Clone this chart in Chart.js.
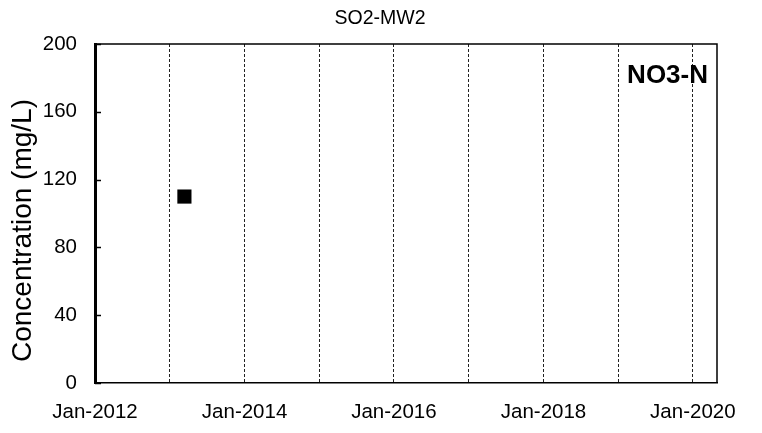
<!DOCTYPE html>
<html>
<head>
<meta charset="utf-8">
<title>SO2-MW2</title>
<script src="https://cdn.jsdelivr.net/npm/chart.js@4/dist/chart.umd.min.js"></script>
<style>
  html, body { margin: 0; padding: 0; background: #ffffff; }
  canvas { display: block; }
</style>
</head>
<body>
<canvas id="chart" width="762" height="433"></canvas>
<script>
// Monitoring well SO2-MW2, nitrate-nitrogen results
const sampleDates = ['2013-03-13'];
const no3nValues = [110];

// Axis setup
const axisStart = '2012-01-01';
const axisEnd = '2020-04-28';
const yearGridTicks = [2012, 2013, 2014, 2015, 2016, 2017, 2018, 2019, 2020];
const yTicks = [0, 40, 80, 120, 160, 200];

const chartTitle = 'SO2-MW2';
const yAxisTitle = 'Concentration (mg/L)';
const analyteLabel = 'NO3-N';

const MONTHS = ['Jan','Feb','Mar','Apr','May','Jun','Jul','Aug','Sep','Oct','Nov','Dec'];
const DAY = 86400000;
function toDay(s) {
  const [y, m, d] = s.split('-').map(Number);
  return Date.UTC(y, m - 1, d) / DAY;
}
function dayLabel(v) {
  const dt = new Date(v * DAY);
  return MONTHS[dt.getUTCMonth()] + '-' + dt.getUTCFullYear();
}

const points = sampleDates.map((d, i) => ({ x: toDay(d), y: no3nValues[i] }));
const FONT = "'Liberation Sans', Arial, sans-serif";

// Frame, inward y ticks and text annotations
const decorations = {
  id: 'decorations',
  afterDraw(chart) {
    const { ctx, chartArea: a, scales } = chart;
    ctx.save();
    // top and right frame
    ctx.strokeStyle = '#000';
    ctx.lineWidth = 1.5;
    ctx.beginPath();
    ctx.moveTo(a.left, a.top);
    ctx.lineTo(a.right, a.top);
    ctx.lineTo(a.right, a.bottom);
    ctx.stroke();
    // inward tick marks on the value axis
    ctx.lineWidth = 1.5;
    yTicks.forEach(v => {
      const y = Math.round(scales.y.getPixelForValue(v)) + 0.5;
      ctx.beginPath();
      ctx.moveTo(a.left, y);
      ctx.lineTo(a.left + 6, y);
      ctx.stroke();
    });
    ctx.fillStyle = '#000';
    // chart title
    ctx.font = '19.5px ' + FONT;
    ctx.textAlign = 'center';
    ctx.textBaseline = 'middle';
    ctx.fillText(chartTitle, 380, 19);
    // analyte label
    ctx.font = 'bold 26px ' + FONT;
    ctx.textAlign = 'right';
    ctx.fillText(analyteLabel, 708, 76);
    // value axis title
    ctx.font = '28px ' + FONT;
    ctx.textAlign = 'center';
    ctx.translate(23, 230.5);
    ctx.rotate(-Math.PI / 2);
    ctx.fillText(yAxisTitle, 0, 0);
    ctx.restore();
  }
};

new Chart(document.getElementById('chart'), {
  type: 'scatter',
  data: {
    datasets: [{
      label: analyteLabel,
      data: points,
      pointStyle: 'rect',
      pointRadius: 10,
      pointHoverRadius: 10,
      backgroundColor: '#000',
      borderColor: '#000',
      borderWidth: 0
    }]
  },
  options: {
    responsive: false,
    animation: false,
    events: [],
    layout: { padding: { top: 44, right: 45, left: 0, bottom: 0 } },
    plugins: {
      legend: { display: false },
      title: { display: false },
      tooltip: { enabled: false }
    },
    scales: {
      x: {
        type: 'linear',
        min: toDay(axisStart),
        max: toDay(axisEnd),
        afterFit(s) { s.height = 50; },
        afterBuildTicks(s) {
          s.ticks = yearGridTicks.map(y => ({ value: toDay(y + '-01-01') }));
        },
        grid: {
          display: true,
          drawTicks: false,
          lineWidth: 1,
          color: ctx => (ctx.index === 0 ? 'rgba(0,0,0,0)' : '#222')
        },
        border: { display: true, color: '#000', width: 1.5, dash: [3, 2] },
        ticks: {
          autoSkip: false,
          maxRotation: 0,
          padding: 17,
          color: '#000',
          font: { family: FONT, size: 20.5 },
          callback(v) {
            const yr = new Date(v * DAY).getUTCFullYear();
            return yr % 2 === 0 ? dayLabel(v) : '';
          }
        }
      },
      y: {
        min: 0,
        max: 200,
        afterFit(s) { s.width = 95; },
        afterBuildTicks(s) { s.ticks = yTicks.map(v => ({ value: v })); },
        grid: { display: false, drawTicks: false },
        border: { display: true, color: '#000', width: 3 },
        ticks: {
          padding: 18,
          color: '#000',
          font: { family: FONT, size: 20.5 }
        }
      }
    }
  },
  plugins: [decorations]
});
</script>
</body>
</html>
